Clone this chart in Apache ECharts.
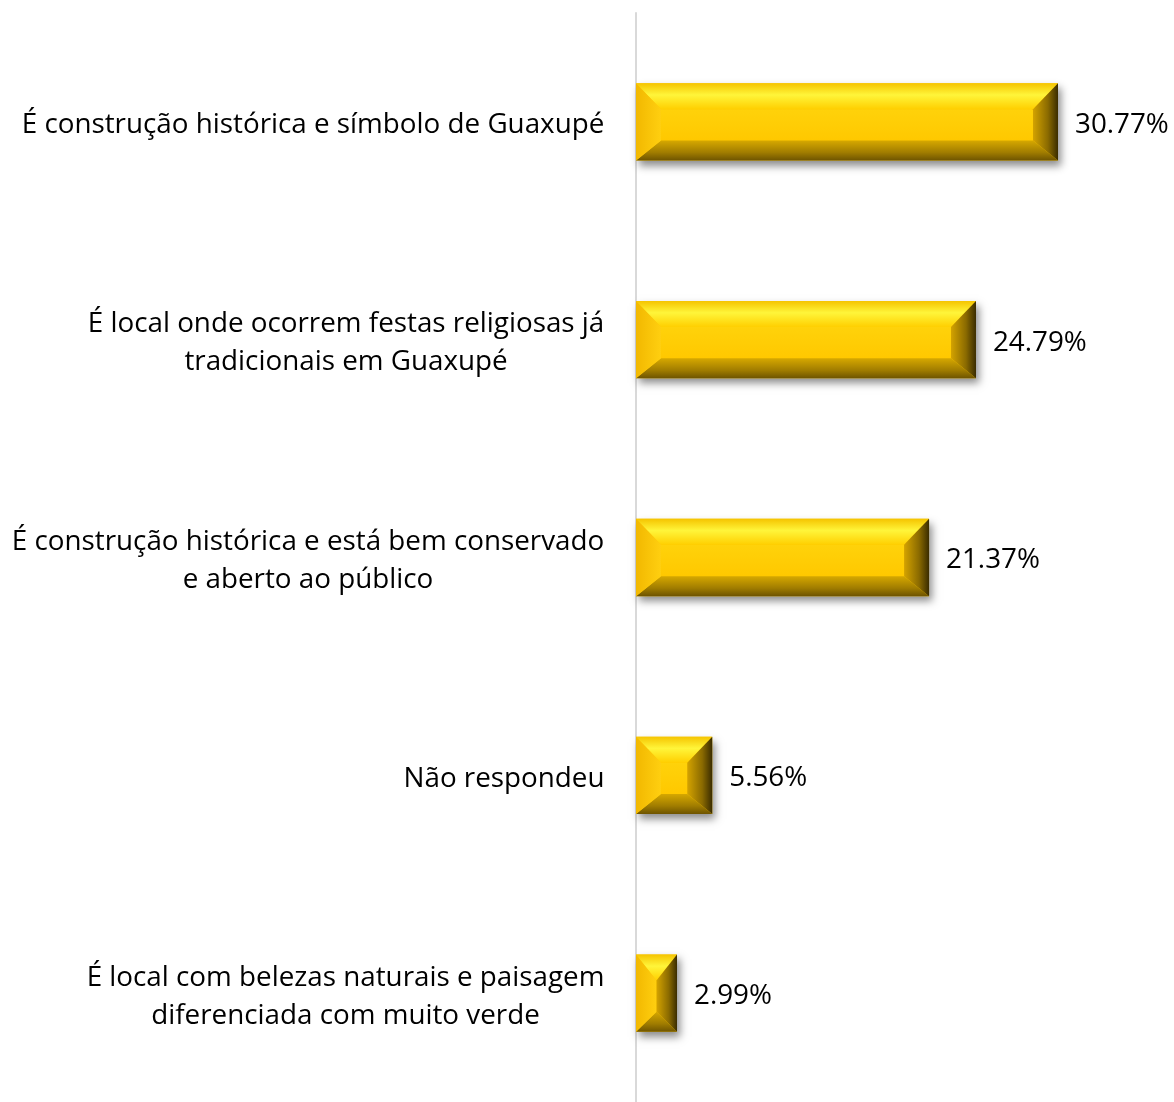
<!DOCTYPE html>
<html>
<head>
<meta charset="utf-8">
<script src="https://cdn.jsdelivr.net/npm/echarts@6/dist/echarts.min.js"></script>
<style>
html,body{margin:0;padding:0;background:#fff;}
#chart{width:1174px;height:1102px;}
</style>
</head>
<body>
<div id="chart"></div>
<script>
const categories = [
  "É construção histórica e símbolo de Guaxupé",
  "É local onde ocorrem festas religiosas já\ntradicionais em Guaxupé",
  "É construção histórica e está bem conservado\ne aberto ao público",
  "Não respondeu",
  "É local com belezas naturais e paisagem\ndiferenciada com muito verde"
];
const values = [30.77, 24.79, 21.37, 5.56, 2.99];

const FONT_FAMILY = "'Open Sans', 'Noto Sans', sans-serif";
const FONT_SIZE = 27.8;
const G = echarts.graphic;

// measure text to build centered multi-line labels with right-aligned block
const mctx = document.createElement('canvas').getContext('2d');
mctx.font = FONT_SIZE + 'px ' + FONT_FAMILY;
const rich = {};
categories.forEach((c, i) => {
  const wmax = Math.max(...c.split('\n').map(s => mctx.measureText(s).width));
  rich['l' + i] = { width: Math.ceil(wmax) + 1, align: 'center', fontSize: FONT_SIZE, fontFamily: FONT_FAMILY, color: '#000', lineHeight: 38 };
});

function renderBar(params, api) {
  const v = api.value(0), c = api.value(1);
  const p0 = api.coord([0, c]);
  const p1 = api.coord([v, c]);
  const h = api.size([0, 1])[1] * 0.355;
  const x0 = p0[0], x1 = p1[0];
  const yT = p0[1] - h / 2, yB = p0[1] + h / 2;
  const w = x1 - x0;
  const bx = Math.min(25, w / 2);
  const bt = Math.min(26, h / 2);
  const bb = Math.min(20, h / 2);
  return {
    type: 'group',
    children: [
      { type: 'rect', shape: { x: x0, y: yT, width: w, height: h },
        style: { fill: '#ffc800', shadowBlur: 8, shadowOffsetX: 3, shadowOffsetY: 5, shadowColor: 'rgba(0,0,0,0.45)' } },
      { type: 'rect', shape: { x: x0 + bx, y: yT + bt, width: Math.max(0, w - 2 * bx), height: h - bt - bb },
        style: { fill: new G.LinearGradient(0, 0, 0, 1, [{ offset: 0, color: '#ffd20a' }, { offset: 1, color: '#ffc800' }]) } },
      { type: 'polygon', shape: { points: [[x0, yT], [x1, yT], [x1 - bx, yT + bt], [x0 + bx, yT + bt]] },
        style: { fill: new G.LinearGradient(0, 0, 0, 1, [{ offset: 0, color: '#f5c400' }, { offset: 0.45, color: '#fff53a' }, { offset: 1, color: '#ffcf00' }]) } },
      { type: 'polygon', shape: { points: [[x0, yB], [x1, yB], [x1 - bx, yB - bb], [x0 + bx, yB - bb]] },
        style: { fill: new G.LinearGradient(0, 0, 0, 1, [{ offset: 0, color: '#d6a800' }, { offset: 0.6, color: '#a07c00' }, { offset: 1, color: '#6e5400' }]) } },
      { type: 'polygon', shape: { points: [[x0, yT], [x0 + bx, yT + bt], [x0 + bx, yB - bb], [x0, yB]] },
        style: { fill: new G.LinearGradient(0, 0, 1, 0, [{ offset: 0, color: '#f2b800' }, { offset: 1, color: '#ffcf10' }]) } },
      { type: 'polygon', shape: { points: [[x1, yT], [x1 - bx, yT + bt], [x1 - bx, yB - bb], [x1, yB]] },
        style: { fill: new G.LinearGradient(0, 0, 1, 0, [{ offset: 0, color: '#d4a300' }, { offset: 0.6, color: '#8a6a00' }, { offset: 1, color: '#3a2c00' }]) } },
      { type: 'text', style: { x: x1 + 17, y: p0[1] + 3, text: v.toFixed(2) + '%', fill: '#000',
        font: FONT_SIZE + 'px ' + FONT_FAMILY, verticalAlign: 'middle', align: 'left' } }
    ]
  };
}

const chart = echarts.init(document.getElementById('chart'));
chart.setOption({
  backgroundColor: '#fff',
  animation: false,
  grid: { left: 636, right: 58, top: 13, height: 1097.5, containLabel: false },
  xAxis: { type: 'value', min: 0, max: 35, show: false },
  yAxis: {
    type: 'category', data: categories, inverse: true,
    axisLine: { show: true, lineStyle: { color: '#d9d9d9', width: 2 } },
    axisTick: { show: false },
    axisLabel: {
      margin: 31, fontSize: FONT_SIZE, lineHeight: 38, color: '#000', fontFamily: FONT_FAMILY, align: 'right',
      padding: [7, 0, 0, 0],
      formatter: (val, idx) => val.split('\n').map(s => '{l' + idx + '|' + s + '}').join('\n'),
      rich: rich
    }
  },
  series: [{
    type: 'custom',
    renderItem: renderBar,
    encode: { x: 0, y: 1 },
    data: values.map((v, i) => [v, i]),
    clip: false
  }]
});
</script>
</body>
</html>
